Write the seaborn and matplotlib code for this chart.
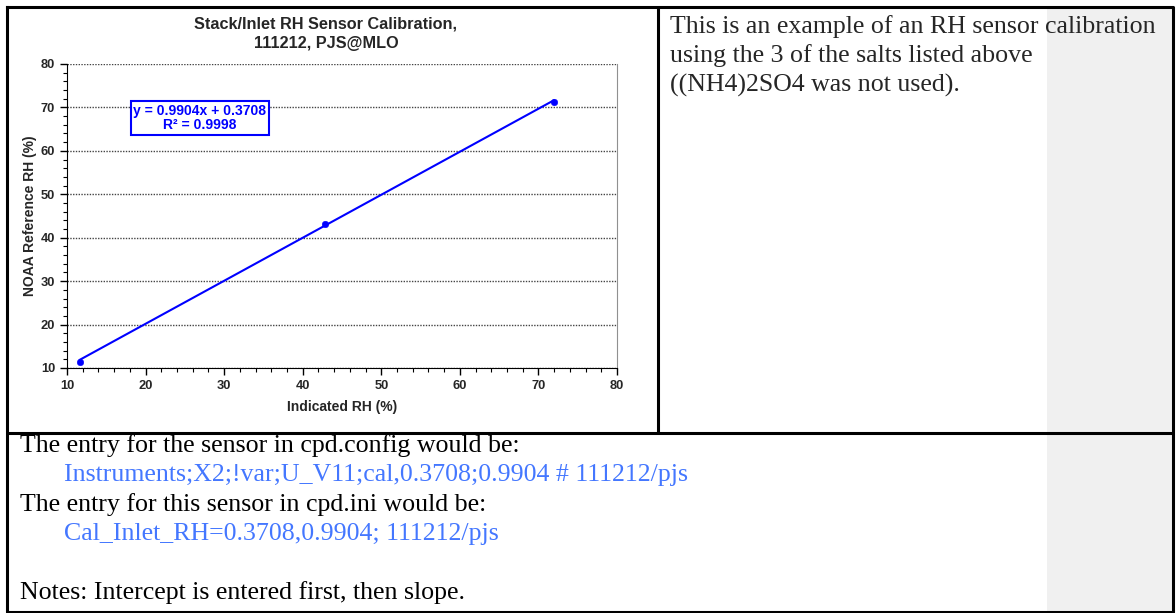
import numpy as np
import pandas as pd
import seaborn as sns
import matplotlib.pyplot as plt
from matplotlib.patches import Rectangle

# calibration points
indicated_rh = [11.6, 42.8, 72.0]
reference_rh = [11.4, 43.2, 71.3]
slope = 0.9904
intercept = 0.3708
r_squared = 0.9998

x_ticks = [10, 20, 30, 40, 50, 60, 70, 80]
y_ticks = [10, 20, 30, 40, 50, 60, 70, 80]

side_note = ["This is an example of an RH sensor calibration",
             "using the 3 of the salts listed above",
             "((NH4)2SO4 was not used)."]
bottom_lines = [("The entry for the sensor in cpd.config would be:", False),
                ("Instruments;X2;!var;U_V11;cal,0.3708;0.9904 # 111212/pjs", True),
                ("The entry for this sensor in cpd.ini would be:", False),
                ("Cal_Inlet_RH=0.3708,0.9904; 111212/pjs", True),
                ("", False),
                ("Notes: Intercept is entered first, then slope.", False)]

cal = pd.DataFrame({'Indicated': indicated_rh, 'Reference': reference_rh})
fit_x = np.array([min(indicated_rh), max(indicated_rh)])
fit = pd.DataFrame({'x': fit_x, 'y': slope * fit_x + intercept})

sns.set_style('white')
plt.rcParams['font.family'] = ['Liberation Sans', 'DejaVu Sans']

W, H = 1176, 613
fig = plt.figure(figsize=(W / 100, H / 100), dpi=100)

# page / table layer in pixel coordinates
bg = fig.add_axes([0, 0, 1, 1], zorder=0)
bg.set_xlim(0, W)
bg.set_ylim(H, 0)
bg.axis('off')
bg.add_patch(Rectangle((1047, 7), 126, 605, fc='#f0f0f0', ec='none'))
lw_tab = 2.2
bg.plot([7, 1173, 1173, 7, 7], [7, 7, 612, 612, 7], color='black', lw=lw_tab, solid_capstyle='projecting')
bg.plot([658, 658], [7, 433], color='black', lw=lw_tab)
bg.plot([7, 1173], [433, 433], color='black', lw=lw_tab)

serif = ['Liberation Serif', 'DejaVu Serif']
for i, line in enumerate(side_note):
    bg.text(670, 33 + i * 29.3, line, family=serif, fontsize=18.6, va='baseline', ha='left')
for i, (line, blue) in enumerate(bottom_lines):
    if not line:
        continue
    bg.text(64 if blue else 20, 452 + i * 29.3, line, family=serif, fontsize=18.6,
            va='baseline', ha='left', color='#4477ff' if blue else 'black')

bg.text(326, 34, "Stack/Inlet RH Sensor Calibration,\n111212, PJS@MLO", ha='center', va='center',
        fontsize=11.7, fontweight='bold', linespacing=1.4)

# chart
ax = fig.add_axes([67 / W, 1 - 368 / H, 550 / W, 304 / H], zorder=2)
sns.lineplot(data=fit, x='x', y='y', color='#0000ff', lw=1.5, ax=ax)
sns.scatterplot(data=cal, x='Indicated', y='Reference', color='#0000ff', s=22,
                edgecolor='#0000ff', ax=ax, zorder=3)

ax.set_xlim(10, 80)
ax.set_ylim(10, 80)
ax.set_xticks(x_ticks)
ax.set_yticks(y_ticks)
ax.set_xticks(np.arange(10, 81, 2), minor=True)
ax.set_yticks(np.arange(10, 81, 2), minor=True)
ax.tick_params(which='major', direction='out', length=5, width=1, color='black',
               labelsize=9.3, bottom=True, left=True)
ax.tick_params(which='minor', direction='out', length=3, width=0.8, color='black',
               bottom=True, left=True)
for lab in ax.get_xticklabels() + ax.get_yticklabels():
    lab.set_fontweight('bold')
ax.yaxis.grid(True, which='major', color='#444444', linestyle=(0, (1, 1)), lw=1.0)
ax.xaxis.grid(False)
ax.spines['top'].set_visible(False)
ax.spines['right'].set_color('#909090')
ax.spines['left'].set_color('black')
ax.spines['bottom'].set_color('black')
ax.set_xlabel("Indicated RH (%)", fontsize=10, fontweight='bold', labelpad=6)
ax.set_ylabel("NOAA Reference RH (%)", fontsize=10, fontweight='bold', labelpad=3)

ax.text(26.9, 67.6, "y = 0.9904x + 0.3708\nR² = 0.9998",
        ha='center', va='center', color='#0000ff', fontsize=10, fontweight='bold',
        linespacing=1.05,
        bbox=dict(boxstyle='square,pad=0.2', fc='white', ec='#0000ff', lw=1.5))

fig.savefig('out.png', dpi=100)
